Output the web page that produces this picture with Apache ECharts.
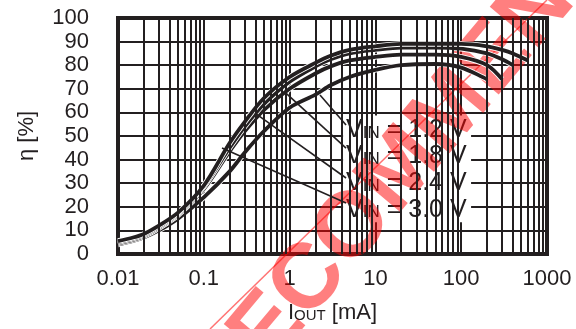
<!DOCTYPE html>
<html>
<head>
<meta charset="utf-8">
<script src="https://cdn.jsdelivr.net/npm/echarts@6/dist/echarts.min.js"></script>
<style>
  html, body { margin: 0; padding: 0; background: #fff; }
  #chart { width: 576px; height: 329px; }
</style>
</head>
<body>
<div id="chart"></div>
<script>
// Values: IOUT in mA, efficiency in %
const currents = [0.01, 0.015, 0.02, 0.03, 0.05, 0.1, 0.2, 0.3, 0.5, 1, 2, 3, 5, 10, 20, 50, 100, 200, 300, 400, 600];
const eff30 = [5.5, 7, 8.5, 12, 17.5, 29, 47, 56, 66, 75, 81, 84, 86.5, 88, 89, 89, 89, 88, 86.5, 85, 82];
const eff24 = [5, 6.5, 8, 11.5, 17, 28.5, 45, 54, 63.5, 73, 79.5, 82.5, 85, 86.5, 87.5, 87.5, 87, 85, 82.5, 80];
const eff18 = [4.5, 6, 7.5, 11, 16.5, 27.5, 43.5, 52, 61, 70, 76.5, 79.5, 82, 83.5, 84.5, 84.5, 83.5, 80, 74];
const eff12 = [4, 5.5, 7, 10, 15, 24, 35, 43, 52, 62, 67.5, 71.5, 75, 78, 80, 80.5, 79, 74];

const vinNames = ['1.2', '1.8', '2.4', '3.0'];
const vinEff = [eff12, eff18, eff24, eff30];

// leader lines: point on the curve -> label edge
const leaderFrom = [[2.26, 67.4], [0.88, 68.6], [0.395, 59.7], [0.163, 44.9]];
const leaderTo = [[4.55, 54.7], [4.55, 44.9], [4.55, 32.2], [4.55, 21.6]];
const labelAt = [[4.2, 53], [4.2, 41.7], [4.2, 30.5], [4.2, 19.2]];

const xTickLabels = ['0.01', '0.1', '1', '10', '100', '1000'];

const ink = '#231f20';
const font = 'Liberation Sans';

// minor vertical grid lines at 2..9 of every decade
const minorX = [];
[0.01, 0.1, 1, 10, 100].forEach(d => {
  for (let k = 2; k <= 9; k++) minorX.push(+(d * k).toPrecision(2));
});

const chart = echarts.init(document.getElementById('chart'));

const series = [];

series.push({
  type: 'line',
  data: [],
  silent: true,
  z: 1,
  markLine: {
    silent: true,
    symbol: 'none',
    label: { show: false },
    animation: false,
    lineStyle: { color: ink, width: 2, type: 'solid' },
    data: minorX.map(v => ({ xAxis: v }))
  }
});

vinEff.forEach((eff, i) => {
  const pts = eff.map((v, j) => [currents[j], v]);
  // white casing then black line, gives the thin seams between curves
  series.push({
    type: 'line', data: pts, smooth: 0.3, showSymbol: false, silent: true, z: 3,
    lineStyle: { color: '#fff', width: 5.5 }
  });
  series.push({
    name: 'VIN = ' + vinNames[i] + ' V',
    type: 'line', data: pts, smooth: 0.3, showSymbol: false, silent: true, z: 3,
    lineStyle: { color: ink, width: 3.8 }
  });
});

series.push({
  type: 'line',
  data: [],
  silent: true,
  z: 4,
  markLine: {
    silent: true,
    symbol: 'none',
    label: { show: false },
    animation: false,
    lineStyle: { color: ink, width: 1.6, type: 'solid' },
    data: leaderFrom.map((p, i) => [{ coord: p }, { coord: leaderTo[i] }])
  }
});

chart.setOption({
  animation: false,
  backgroundColor: '#fff',
  grid: {
    left: 118, right: 29, top: 18, bottom: 75,
    show: true, borderColor: ink, borderWidth: 4, backgroundColor: 'transparent'
  },
  xAxis: {
    type: 'log',
    logBase: 10,
    min: 0.01,
    max: 1000,
    name: 'I{s|OUT} [mA]',
    nameLocation: 'middle',
    nameGap: 48,
    nameTextStyle: {
      fontFamily: font, fontSize: 22, color: ink,
      rich: { s: { fontFamily: font, fontSize: 15, color: ink, verticalAlign: 'bottom', padding: [0, 0, 1, 0] } }
    },
    axisLine: { show: false },
    axisTick: { show: false },
    axisLabel: {
      fontFamily: font, fontSize: 22, color: ink, margin: 14,
      formatter: v => {
        const k = Math.round(Math.log10(v)) + 2;
        return xTickLabels[k] !== undefined ? xTickLabels[k] : '';
      }
    },
    splitLine: { show: true, lineStyle: { color: ink, width: 2 } }
  },
  yAxis: {
    type: 'value',
    min: 0,
    max: 100,
    interval: 10,
    name: 'η [%]',
    nameLocation: 'middle',
    nameRotate: 90,
    nameGap: 80,
    nameTextStyle: { fontFamily: font, fontSize: 22, color: ink },
    axisLine: { show: false },
    axisTick: { show: false },
    axisLabel: { fontFamily: font, fontSize: 22, color: ink, margin: 29 },
    splitLine: { show: true, lineStyle: { color: ink, width: 2 } }
  },
  series: series
});

// VIN labels on one white box, placed from data coordinates
const toPx = p => chart.convertToPixel({ gridIndex: 0 }, p);
const rowH = 27;
const labelPx = labelAt.map(toPx);
const boxTop = labelPx[0][1] - rowH / 2;
const boxBottom = labelPx[labelPx.length - 1][1] + rowH / 2;
const graphics = [{
  type: 'rect',
  z2: 1,
  silent: true,
  shape: { x: labelPx[0][0], y: boxTop, width: 128, height: boxBottom - boxTop },
  style: { fill: '#fff' }
}];
labelPx.forEach((p, i) => {
  graphics.push({
    type: 'text',
    z2: 2,
    silent: true,
    x: p[0] + 3,
    y: p[1],
    style: {
      text: '{v|V}{s|IN}{v| = ' + vinNames[i] + ' V}',
      verticalAlign: 'middle',
      rich: {
        v: { fontFamily: font, fontSize: 25, fill: ink, lineHeight: rowH, verticalAlign: 'bottom' },
        s: { fontFamily: font, fontSize: 17, fill: ink, lineHeight: rowH, verticalAlign: 'bottom', padding: [0, 0, 1, 0] }
      }
    }
  });
});

// red watermark lying over the plot
graphics.push({
  type: 'text',
  z2: 10,
  silent: true,
  x: 206, y: 404,
  rotation: 50 * Math.PI / 180,
  style: {
    text: 'RECOMMENDED',
    font: 'bold 92px "Liberation Sans"',
    fill: 'rgba(255,0,0,0.5)',
    textAlign: 'left',
    verticalAlign: 'middle'
  }
});
graphics.push({
  type: 'line',
  z2: 10,
  silent: true,
  shape: { x1: 210, y1: 329, x2: 547, y2: 0 },
  style: { stroke: 'rgba(255,0,0,0.55)', lineWidth: 1.5 }
});

chart.setOption({ graphic: { z: 100, elements: graphics } });
</script>
</body>
</html>
